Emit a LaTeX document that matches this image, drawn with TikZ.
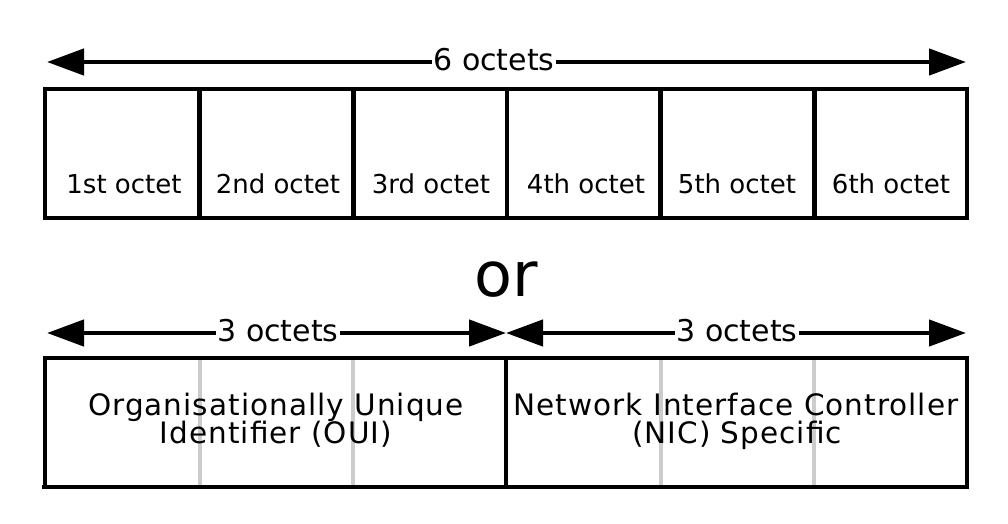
\documentclass[tikz,border=0pt]{standalone}
\usepackage{fontspec}
\setmainfont{DejaVu Sans}
\usetikzlibrary{arrows.meta}
\begin{document}
\begin{tikzpicture}[x=1pt,y=-1pt,
  box/.style={line width=4.5pt,line join=miter},
  arr/.style={line width=4.5pt,-{Triangle[length=37pt,width=26pt]}},
  octlbl/.style={anchor=base,font=\fontsize{26}{30}\selectfont,inner sep=0pt},
  spanlbl/.style={font=\fontsize{30}{36}\selectfont,inner sep=1.5pt},
  desc/.style={anchor=base,font=\fontsize{29.5}{34}\selectfont\addfontfeature{LetterSpace=3.5},inner sep=0pt},
  greyline/.style={line width=4pt,draw=black!20}]
\useasboundingbox[fill=white] (0,0) rectangle (1008,524);

% ---- top row: 6 octets ----
\coordinate (tl) at (47,62);
\coordinate (tr) at (966,62);
\node[spanlbl] (six) at (494,60) {6 octets};
\draw[arr] (six.west |- tl) -- (tl);
\draw[arr] (six.east |- tr) -- (tr);

\draw[box] (45,89) rectangle (967,218);
\foreach \x in {199.7,353.3,507,660.7,814.3}
  \draw[box] (\x,89) -- (\x,218);

\node[octlbl] (o1) at (124,193) {1st octet};
\node[octlbl] (o2) at (278,193) {2nd octet};
\node[octlbl] (o3) at (431,193) {3rd octet};
\node[octlbl] (o4) at (586,193) {4th octet};
\node[octlbl] (o5) at (737,193) {5th octet};
\node[octlbl] (o6) at (891,193) {6th octet};

% ---- or ----
\node[anchor=base,font=\fontsize{62}{70}\selectfont,inner sep=0pt] (or) at (506,296) {or};

% ---- bottom row: 3 + 3 octets ----
\coordinate (bl) at (47,333);
\coordinate (bm) at (506,333);
\coordinate (br) at (966,333);
\node[spanlbl] (three1) at (278,331) {3 octets};
\node[spanlbl] (three2) at (737,331) {3 octets};
\draw[arr] (three1.west |- bl) -- (bl);
\draw[arr] (three1.east |- bm) -- (bm);
\draw[arr] (three2.west |- bm) -- (bm);
\draw[arr] (three2.east |- br) -- (br);

\foreach \x in {199.7,353.3,660.7,814.3}
  \draw[greyline] (\x,358) -- (\x,487);

\node[desc] (oui1) at (276,415) {Organisationally Unique};
\node[desc] (oui2) at (276,443) {Identifier (OUI)};
\node[desc] (nic1) at (736,415) {Network Interface Controller};
\node[desc] (nic2) at (737,443) {(NIC) Specific};

\draw[box] (45,358) rectangle (967,487);
\draw[box] (42,487) -- (47,487);
\draw[box] (506,358) -- (506,487);
\end{tikzpicture}
\end{document}
